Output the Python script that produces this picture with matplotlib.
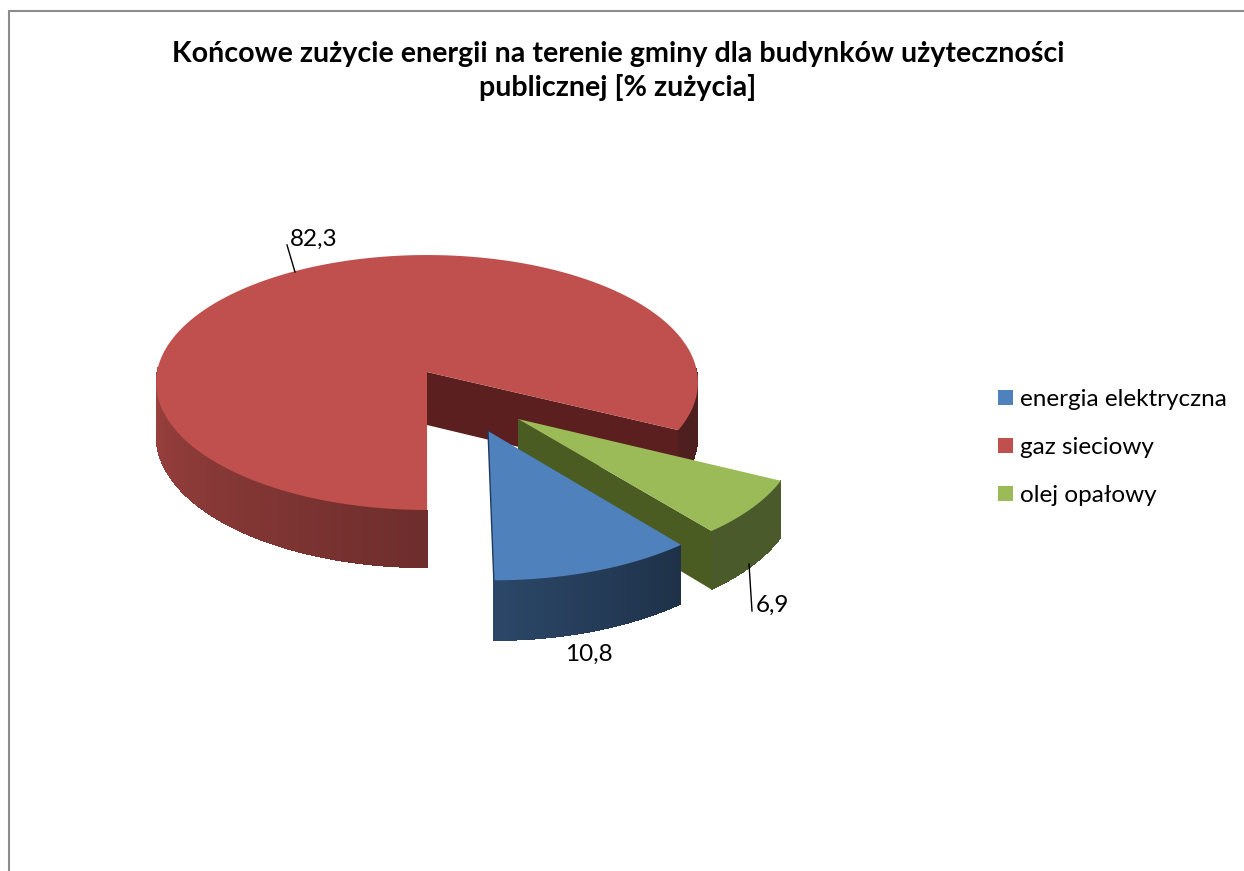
import numpy as np
import matplotlib
matplotlib.use("Agg")
import matplotlib.pyplot as plt
from matplotlib.patches import Patch, Polygon

categories = ["energia elektryczna", "gaz sieciowy", "olej opałowy"]
values = [10.8, 82.3, 6.9]
value_labels = ["10,8", "82,3", "6,9"]
title = "Końcowe zużycie energii na terenie gminy dla budynków użyteczności\npublicznej [% zużycia]"

colors = ["#4F81BD", "#C0504D", "#9BBB59"]
wall_colors = ["#1F3A5F", "#5A1F1E", "#4A5C22"]
explode = [(0.2176, 0.449), (0.0, 0.0), (0.327, 0.36)]
draw_order = [1, 2, 0]

CX, CY, RX, A, K, DEPTH = 427, 372, 270, 126.6, 0.0824, 53
FIRST_ANGLE = 141.1


def project(u, v, z=0.0):
    s = 1.0 / (1.0 - K * v)
    return CX + RX * u * s, CY + (A * v + DEPTH * z) * s


def rim(theta, off, z=0.0):
    t = np.radians(theta)
    return project(off[0] + np.sin(t), off[1] - np.cos(t), z)


def shade(i, theta):
    if i == 0:
        return np.interp(theta, [141, 180], [0.38, 0.55])
    if i == 2:
        return 0.48
    if theta < 180:
        return 0.40
    return np.interp(theta, [180, 270], [0.57, 0.82])


fig = plt.figure(figsize=(12.44, 8.71), dpi=100)
ax = fig.add_axes([0, 0, 1, 1])
ax.set_xlim(0, 1244)
ax.set_ylim(871, 0)
ax.axis("off")
plt.rcParams["font.family"] = ["Lato", "DejaVu Sans"]

ax.plot([9, 9, 1244], [871, 11.5, 11.5], color="#8C8C8C", lw=1.5, solid_joinstyle="miter")

# angular spans (clockwise from 12 o'clock), starting from the first slice
spans = []
start = FIRST_ANGLE
for val in values:
    sweep = val / sum(values) * 360
    spans.append((start, start + sweep))
    start += sweep

for rank, i in enumerate(draw_order):
    a0, a1 = spans[i]
    off = explode[i]
    base = np.array(matplotlib.colors.to_rgb(colors[i]))
    thetas = np.linspace(a0, a1, int((a1 - a0) * 2) + 2)
    apex = project(off[0], off[1])

    # outer side wall, drawn in narrow shaded strips on the viewer-facing part
    for t0, t1 in zip(thetas[:-1], thetas[1:]):
        tm = ((t0 + t1) / 2) % 360
        if np.cos(np.radians(tm)) > 0.03:
            continue
        c = base * shade(i, tm)
        p = [rim(t0, off), rim(t1, off), rim(t1, off, 1), rim(t0, off, 1)]
        ax.add_patch(Polygon(p, closed=True, fc=c, ec="none", lw=0, antialiased=False, zorder=2 + rank))

    # inner cut wall at the far clockwise end of the slice
    if i != 0:
        wall = [apex, rim(a1, off), rim(a1, off, 1), project(off[0], off[1], 1)]
        ax.add_patch(Polygon(wall, closed=True, fc=wall_colors[i], ec="none", zorder=2.2 + rank))

    # top face
    face = [apex] + [rim(t, off) for t in thetas]
    ax.add_patch(Polygon(face, closed=True, fc=colors[i], ec="none", zorder=2.5 + rank))

    # thin dark edge on the blue slice's left side
    if i == 0:
        e = rim(a1, off)
        ax.plot([apex[0], e[0]], [apex[1], e[1]], color=wall_colors[0], lw=1.0, zorder=2.6 + rank)

# data labels with leader lines
ax.text(589, 654.5, value_labels[0], ha="center", va="center", fontsize=17.5, color="black", zorder=10)
ax.text(314, 239, value_labels[1], ha="center", va="center", fontsize=17.5, color="black", zorder=10)
ax.text(772, 605, value_labels[2], ha="center", va="center", fontsize=17.5, color="black", zorder=10)
ax.plot([287, 295], [245, 272], color="black", lw=1, zorder=10)
ax.plot([749, 752], [564, 611], color="black", lw=1, zorder=10)

ax.text(618, 71, title, ha="center", va="center", fontsize=20.6, fontweight="bold",
        color="black", linespacing=1.33, zorder=10)

handles = [Patch(fc=c, ec="none") for c in colors]
ax.legend(handles, categories, loc="center left", bbox_to_anchor=(998 / 1244, 1 - 447.5 / 871),
          frameon=False, fontsize=17.5, handlelength=0.62, handleheight=0.62, handletextpad=0.3,
          labelspacing=1.11, borderpad=0, borderaxespad=0)

fig.savefig("out.png", dpi=100)
